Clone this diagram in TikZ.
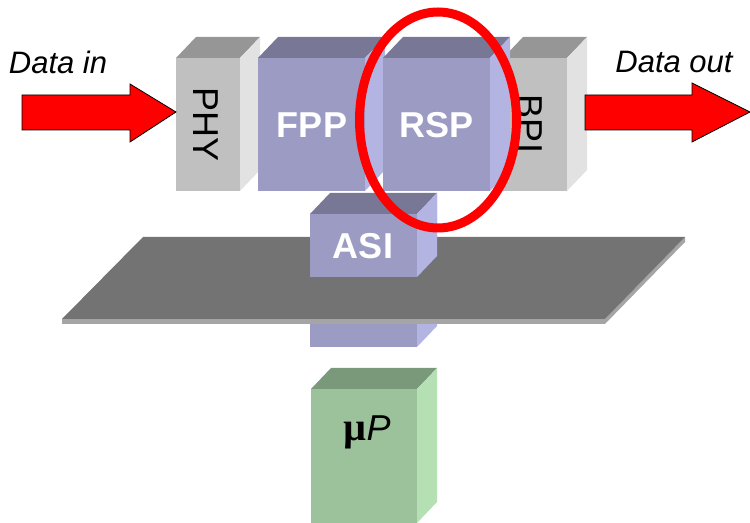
\documentclass[tikz,border=0pt]{standalone}
\usepackage{fontspec}
\setmainfont{Liberation Sans}
\newfontfamily\serifmu{Liberation Serif}
\usepackage{tikz}

\definecolor{grayfront}{RGB}{192,192,192}
\definecolor{graytop}{RGB}{150,150,150}
\definecolor{grayside}{RGB}{226,226,226}
\definecolor{bluefront}{RGB}{155,155,195}
\definecolor{bluetop}{RGB}{120,120,150}
\definecolor{blueside}{RGB}{180,180,226}
\definecolor{greenfront}{RGB}{156,194,156}
\definecolor{greentop}{RGB}{122,152,122}
\definecolor{greenside}{RGB}{180,224,180}
\definecolor{plate}{RGB}{115,115,115}
\definecolor{plateedge}{RGB}{165,165,165}

\tikzstyle{lbl} = [inner sep=0pt,font=\fontsize{18}{20}\selectfont]
\tikzstyle{hot} = [lbl,text=white,font=\bfseries\fontsize{18}{20}\selectfont]
\tikzstyle{io} = [inner sep=0pt,font=\itshape\fontsize{15.5}{18}\selectfont]
\tikzstyle{fat} = [draw=black,line width=0.4pt,fill=red]

% box: front corner x, y, width, height, front, top, side colour
\newcommand{\cube}[7]{%
  \fill[#5] (#1,#2) rectangle ++(#3,#4);
  \fill[#6] (#1,#2) -- ++(20,-21) -- ++(#3,0) -- ++(-20,21) -- cycle;
  \fill[#7] (#1+#3,#2) -- ++(20,-21) -- ++(0,#4) -- ++(-20,21) -- cycle;
}

\begin{document}
\begin{tikzpicture}[x=0.5pt,y=-0.5pt]
    \useasboundingbox (0,0) rectangle (750,523);

    % line card
    \cube{176}{58}{64}{133}{grayfront}{graytop}{grayside}
    \cube{258}{58}{107}{133}{bluefront}{bluetop}{blueside}
    \cube{503}{58}{64}{133}{grayfront}{graytop}{grayside}
    \cube{383}{58}{107}{133}{bluefront}{bluetop}{blueside}

    % ASI through the backplane
    \cube{310}{214}{107}{133}{bluefront}{bluetop}{blueside}
    \fill[plateedge] (62,319) -- (605,319) -- (685,237) -- (685,242) -- (605,324) -- (62,324) -- cycle;
    \fill[plate] (143,237) -- (685,237) -- (605,319) -- (62,319) -- cycle;
    \fill[bluefront] (310,214) rectangle (417,277);
    \fill[blueside] (417,214) -- (437,193) -- (437,256) -- (417,277) -- cycle;

    % host processor
    \cube{311}{389}{106}{134}{greenfront}{greentop}{greenside}

    \node[lbl,rotate=-90] (phy) at (206,125) {PHY};
    \node[hot] (fpp) at (312,125) {FPP};
    \node[hot] (rsp) at (437,125) {RSP};
    \node[lbl,rotate=-90] (bpi) at (530,124) {BPI};
    \node[hot] (asi) at (363,246) {ASI};
    \node[lbl] (up) at (367,432) {{\serifmu\bfseries\fontsize{20}{20}\selectfont µ}\textit{P}};

    \node[io] (din) at (58,62) {Data in};
    \node[io] (dout) at (674,62) {Data out};

    % traffic arrows
    \draw[fat] (22,95) -- (130,95) -- (130,84) -- (176,112) -- (130,142) -- (130,130) -- (22,130) -- cycle;
    \draw[fat] (585,95) -- (692,95) -- (692,83) -- (750,112) -- (692,142) -- (692,130) -- (585,130) -- cycle;

    \draw[red,line width=4.5pt] (438,120) ellipse [x radius=78.5,y radius=108];
\end{tikzpicture}
\end{document}
